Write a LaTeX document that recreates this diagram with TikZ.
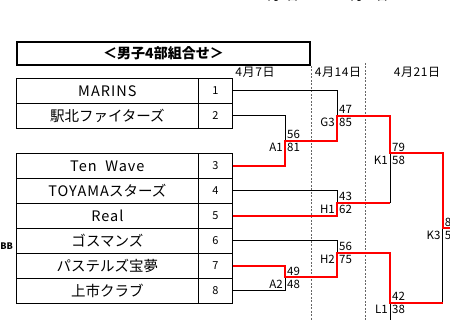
\documentclass[tikz,border=0pt]{standalone}
\usepackage{fontspec}
\newfontfamily\jp{Noto Sans CJK JP}
\newcommand\wide[1]{{\addfontfeature{LetterSpace=7}#1}}

\begin{document}
\begin{tikzpicture}[x=1pt,y=-1pt,
  namecell/.style={draw, line width=0.8pt, minimum width=182.7pt, minimum height=25pt, inner sep=0pt, font=\jp\fontsize{14.5}{16}\selectfont},
  numcell/.style={draw, line width=0.8pt, minimum width=33.6pt, minimum height=25pt, inner sep=0pt, font=\jp\fontsize{11}{12}\selectfont},
  tline/.style={line width=0.8pt},
  win/.style={red, line width=1.7pt},
  day/.style={font=\jp\fontsize{12}{13}\selectfont, inner sep=0pt},
  score/.style={font=\jp\fontsize{11.5}{12}\selectfont, inner sep=0pt, anchor=west},
  gamelbl/.style={font=\jp\fontsize{11.5}{12}\selectfont, inner sep=0pt, anchor=east},
  sepline/.style={black!60, line width=0.8pt, dash pattern=on 2pt off 1.5pt}]
	\useasboundingbox (0,0) rectangle (450,320);
	% cut-off texts at the edges
	\node[day] (topday1) at (280,-3.5) {4月7日};
	\node[day] (topday2) at (366.5,-3.5) {4月21日};
	\node[font=\jp\bfseries\fontsize{9}{10}\selectfont, inner sep=0pt, anchor=east] (sidetxt) at (13,246.5) {BB};
	% title
	\node[draw, line width=2pt, minimum width=293pt, minimum height=23pt, inner sep=0pt, font=\jp\bfseries\fontsize{14}{16}\selectfont] (title) at (163.5,53.2) {＜男子4部組合せ＞};
	\node[day] (day1) at (255,72.7) {\addfontfeature{LetterSpace=5}4月7日};
	\node[day] (day2) at (338,72.7) {\addfontfeature{LetterSpace=5}4月14日};
	\node[day] (day3) at (417,72.7) {\addfontfeature{LetterSpace=5}4月21日};
	\draw[sepline] (311,66) -- (311,320);
	\draw[sepline] (365,63) -- (365,320);
	% teams
	\node[namecell] (t1) at (107.35,90.8) {\wide{MARINS}};
	\node[numcell] (n1) at (215.5,90.8) {1};
	\node[namecell] (t2) at (107.35,115.8) {駅北ファイターズ};
	\node[numcell] (n2) at (215.5,115.8) {2};
	\node[namecell] (t3) at (107.35,165.8) {\wide{Ten\ \ Wave}};
	\node[numcell] (n3) at (215.5,165.8) {3};
	\node[namecell] (t4) at (107.35,190.8) {\wide{TOYAMA}スターズ};
	\node[numcell] (n4) at (215.5,190.8) {4};
	\node[namecell] (t5) at (107.35,215.8) {\wide{Real}};
	\node[numcell] (n5) at (215.5,215.8) {5};
	\node[namecell] (t6) at (107.35,240.8) {ゴスマンズ};
	\node[numcell] (n6) at (215.5,240.8) {6};
	\node[namecell] (t7) at (107.35,265.8) {パステルズ宝夢};
	\node[numcell] (n7) at (215.5,265.8) {7};
	\node[namecell] (t8) at (107.35,290.8) {上市クラブ};
	\node[numcell] (n8) at (215.5,290.8) {8};
	% games
	\coordinate (A1) at (285,140.7);
	\coordinate (G3) at (337,115.7);
	\coordinate (K1) at (390,153.3);
	\coordinate (H1) at (337,202.7);
	\coordinate (A2) at (285,277.3);
	\coordinate (H2) at (337,252.7);
	\coordinate (L1) at (390,302.7);
	\coordinate (K3) at (442.7,228);
	\coordinate (K3out) at (456,228);
	\coordinate (L1low) at (390,324);
	\draw[tline] (n1.east) -| (G3);
	\draw[tline] (n2.east) -| (A1);
	\draw[tline] (n4.east) -| (H1);
	\draw[tline] (n6.east) -| (H2);
	\draw[tline] (n8.east) -| (A2);
	\draw[tline] (H1 -| K1) -- (K1);
	\draw[tline] (L1 -| K3) -- (K3);
	\draw[tline] (L1) -- (L1low);
	\draw[win] (n3.east) -| (A1) -| (G3) -| (K1) -| (K3) -- (K3out);
	\draw[win] (n5.east) -| (H1) -- (H1 -| K1);
	\draw[win] (n7.east) -| (A2) -| (H2) -| (L1) -- (L1 -| K3);
	% scores
	\node[gamelbl] (A1l) at ([shift={(-2,7)}]A1) {A1};
	\node[score] (A1a) at ([shift={(2,-6)}]A1) {56};
	\node[score] (A1b) at ([shift={(2,7)}]A1) {81};
	\node[gamelbl] (G3l) at ([shift={(-2,7)}]G3) {G3};
	\node[score] (G3a) at ([shift={(2,-6)}]G3) {47};
	\node[score] (G3b) at ([shift={(2,7)}]G3) {85};
	\node[gamelbl] (K1l) at ([shift={(-2,7)}]K1) {K1};
	\node[score] (K1a) at ([shift={(2,-6)}]K1) {79};
	\node[score] (K1b) at ([shift={(2,7)}]K1) {58};
	\node[gamelbl] (H1l) at ([shift={(-2,7)}]H1) {H1};
	\node[score] (H1a) at ([shift={(2,-6)}]H1) {43};
	\node[score] (H1b) at ([shift={(2,7)}]H1) {62};
	\node[gamelbl] (H2l) at ([shift={(-2,7)}]H2) {H2};
	\node[score] (H2a) at ([shift={(2,-6)}]H2) {56};
	\node[score] (H2b) at ([shift={(2,7)}]H2) {75};
	\node[gamelbl] (A2l) at ([shift={(-2,7)}]A2) {A2};
	\node[score] (A2a) at ([shift={(2,-6)}]A2) {49};
	\node[score] (A2b) at ([shift={(2,7)}]A2) {48};
	\node[gamelbl] (L1l) at ([shift={(-2,7)}]L1) {L1};
	\node[score] (L1a) at ([shift={(2,-6)}]L1) {42};
	\node[score] (L1b) at ([shift={(2,7)}]L1) {38};
	\node[gamelbl] (K3l) at ([shift={(-2,7)}]K3) {K3};
	\node[score] (K3a) at ([shift={(2,-6)}]K3) {8};
	\node[score] (K3b) at ([shift={(2,7)}]K3) {5};
\end{tikzpicture}
\end{document}
